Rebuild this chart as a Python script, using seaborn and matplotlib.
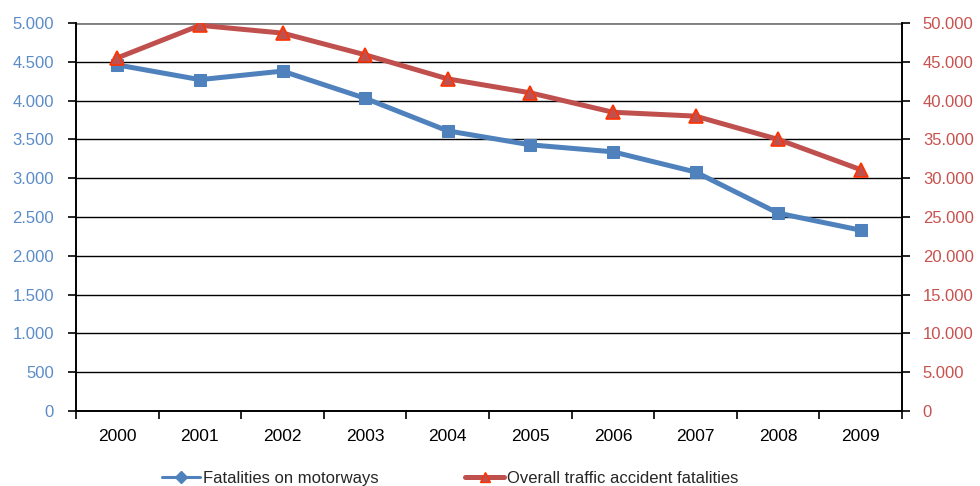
import matplotlib
matplotlib.use("Agg")
import matplotlib.pyplot as plt
from matplotlib.lines import Line2D
from matplotlib.ticker import FuncFormatter, MultipleLocator, FixedLocator
import seaborn as sns
import pandas as pd
import numpy as np

years = ["2000", "2001", "2002", "2003", "2004", "2005", "2006", "2007", "2008", "2009"]
motorway_fatalities = [4460, 4270, 4380, 4030, 3610, 3430, 3340, 3080, 2550, 2330]
overall_fatalities = [45500, 49700, 48700, 45900, 42800, 41000, 38500, 38000, 35000, 31100]

label_motorway = "Fatalities on motorways"
label_overall = "Overall traffic accident fatalities"

BLUE = "#4F81BD"
RED = "#C0504D"
RED_EDGE = "#FF3300"
BLUE_TXT = "#5B8CC8"
RED_TXT = "#C8514E"

df = pd.DataFrame({
    "pos": np.arange(len(years)),
    "year": years,
    "motorway": motorway_fatalities,
    "overall": overall_fatalities,
})

sns.set_theme(style="white")
plt.rcParams["font.family"] = ["Liberation Sans", "DejaVu Sans"]

fig = plt.figure(figsize=(9.8, 4.86), dpi=100)
ax = fig.add_axes([76 / 980, 75 / 486, 826 / 980, 388 / 486])
ax2 = ax.twinx()

# horizontal gridlines behind everything
ax.set_axisbelow(True)
ax.yaxis.grid(True, color="black", linewidth=1.0)
ax.xaxis.grid(False)

sns.lineplot(data=df, x="pos", y="motorway", ax=ax, color=BLUE, linewidth=3.6,
             marker="s", markersize=9, markeredgecolor=BLUE, markerfacecolor=BLUE,
             zorder=3, legend=False)
sns.lineplot(data=df, x="pos", y="overall", ax=ax2, color=RED, linewidth=3.6,
             marker="^", markersize=9.5, markeredgecolor=RED_EDGE, markerfacecolor=RED,
             markeredgewidth=1.2, zorder=3, legend=False)

ax.set_xlim(-0.5, len(years) - 0.5)
ax.set_ylim(0, 5000)
ax2.set_ylim(0, 50000)

fmt = FuncFormatter(lambda v, p: f"{int(v):,}".replace(",", "."))
ax.yaxis.set_major_locator(MultipleLocator(500))
ax2.yaxis.set_major_locator(MultipleLocator(5000))
ax.yaxis.set_major_formatter(fmt)
ax2.yaxis.set_major_formatter(fmt)

ax.set_xticks(df["pos"])
ax.set_xticklabels(years)
ax.xaxis.set_minor_locator(FixedLocator(np.arange(-0.5, len(years), 1.0)))
ax.tick_params(axis="x", which="major", length=0, pad=13, labelsize=12.5, labelcolor="black")
ax.tick_params(axis="x", which="minor", direction="out", length=6, width=1.2, color="black", bottom=True)
ax.tick_params(axis="y", which="major", direction="out", length=6, width=1.2, color="black",
               pad=10, labelsize=12, labelcolor=BLUE_TXT, left=True)
ax2.tick_params(axis="y", which="major", direction="out", length=6, width=1.2, color="black",
                pad=9, labelsize=12, labelcolor=RED_TXT, right=True)

ax.set_xlabel("")
ax.set_ylabel("")
ax2.set_ylabel("")

for a in (ax, ax2):
    a.spines["top"].set_visible(False)
    for s in ("left", "right", "bottom"):
        a.spines[s].set_color("black")
        a.spines[s].set_linewidth(1.2)

# top gridline is drawn a bit heavier and grey
ax.axhline(5000, color="#7F7F7F", linewidth=2.0, zorder=1)

handles = [
    Line2D([0], [0], color=BLUE, linewidth=2.2, marker="D", markersize=6.5,
           markerfacecolor=BLUE, markeredgecolor=BLUE),
    Line2D([0], [0], color=RED, linewidth=3.6, marker="^", markersize=7,
           markerfacecolor=RED, markeredgecolor=RED_EDGE),
]
fig.legend(handles, [label_motorway, label_overall], loc="center",
           bbox_to_anchor=(450 / 980, 8 / 486), ncol=2, frameon=False,
           fontsize=12, handlelength=2.3, handletextpad=0.2, columnspacing=5.2,
           borderaxespad=0)

fig.savefig("out.png", dpi=100)
